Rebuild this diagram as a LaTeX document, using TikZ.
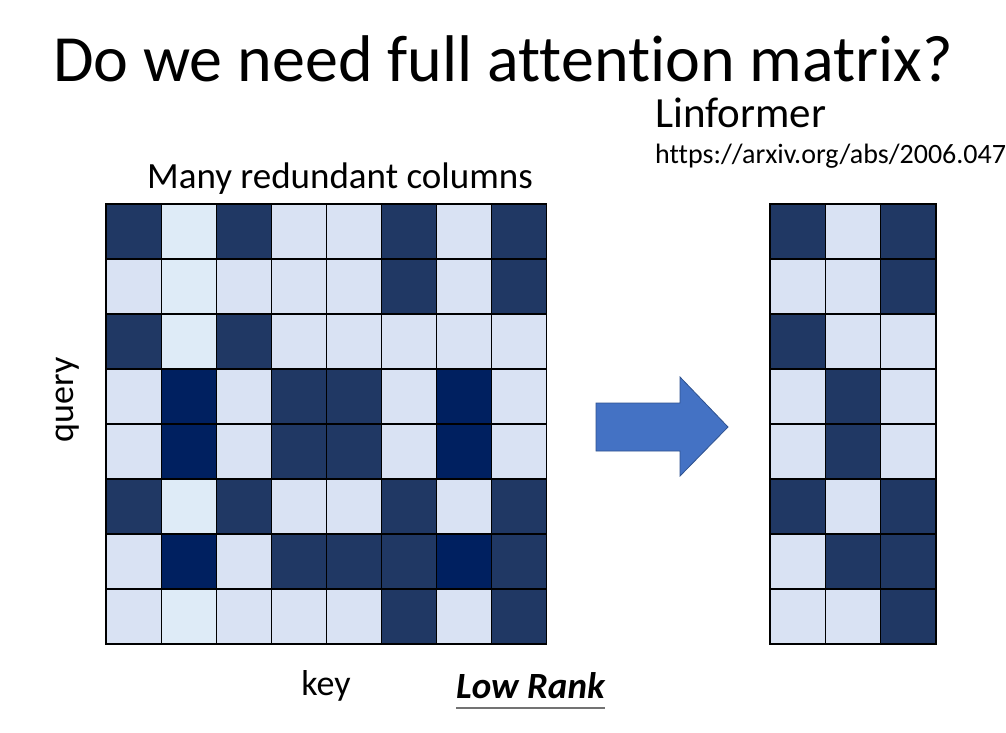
\documentclass[tikz,border=0pt]{standalone}
\usepackage{fontspec}
\setmainfont{Carlito}[Ligatures={NoCommon}]
\definecolor{cD}{HTML}{203864}
\definecolor{cL}{HTML}{D9E2F3}
\definecolor{cP}{HTML}{DEEBF7}
\definecolor{cX}{HTML}{002060}
\definecolor{arrowblue}{HTML}{4472C4}
\definecolor{arrowedge}{HTML}{2F528F}
\tikzset{
  cellbox/.style={draw=black,line width=1.2pt},
  label/.style={inner sep=0pt,anchor=base},
}
\begin{document}
\begin{tikzpicture}[x=1pt,y=-1pt]
 \useasboundingbox[fill=white] (0,0) rectangle (1006,732);
 % titles
 \node[label,font=\fontsize{66}{70}\selectfont] (title) at (503,81) {Do we need full attention matrix?};
 \node[label,anchor=base west,font=\fontsize{43}{46}\selectfont] (linformer) at (655,127) {Linformer};
 \node[label,anchor=base west,font=\fontsize{28}{30}\selectfont] (url) at (655,163) {https://arxiv.org/abs/2006.047};
 \node[label,font=\fontsize{37}{40}\selectfont] (redundant) at (340,188) {Many redundant columns};
 % full matrix, 8x8
 \foreach \row [count=\r] in {{D,P,D,L,L,D,L,D},{L,P,L,L,L,D,L,D},{D,P,D,L,L,L,L,L},
   {L,X,L,D,D,L,X,L},{L,X,L,D,D,L,X,L},{D,P,D,L,L,D,L,D},{L,X,L,D,D,D,X,D},{L,P,L,L,L,D,L,D}}
   \foreach \c [count=\k] in \row
     \draw[cellbox,fill=c\c] ({106+55.1*(\k-1)},{204+55*(\r-1)}) rectangle ++(55.1,55);
 % low rank matrix, 8x3
 \foreach \row [count=\r] in {{D,L,D},{L,L,D},{D,L,L},{L,D,L},{L,D,L},{D,L,D},{L,D,D},{L,L,D}}
   \foreach \c [count=\k] in \row
     \draw[cellbox,fill=c\c] ({770+55.3*(\k-1)},{204+55*(\r-1)}) rectangle ++(55.3,55);
 % block arrow
 \filldraw[fill=arrowblue,draw=arrowedge,line width=0.8pt]
   (596,403)--(680,403)--(680,377)--(728,427)--(680,476)--(680,451)--(596,451)--cycle;
 % axis labels
 \node[font=\fontsize{36}{40}\selectfont,rotate=90] (query) at (68,400) {query};
 \node[label,font=\fontsize{36}{40}\selectfont] (key) at (326,695) {key};
 \node[label,anchor=base west,font=\fontsize{37}{40}\selectfont\bfseries\itshape] (lowrank) at (456,698) {Low Rank};
 \draw[black!55,line width=1.3pt] ([yshift=-10pt]lowrank.base west) -- ([yshift=-10pt]lowrank.base east);
\end{tikzpicture}
\end{document}
